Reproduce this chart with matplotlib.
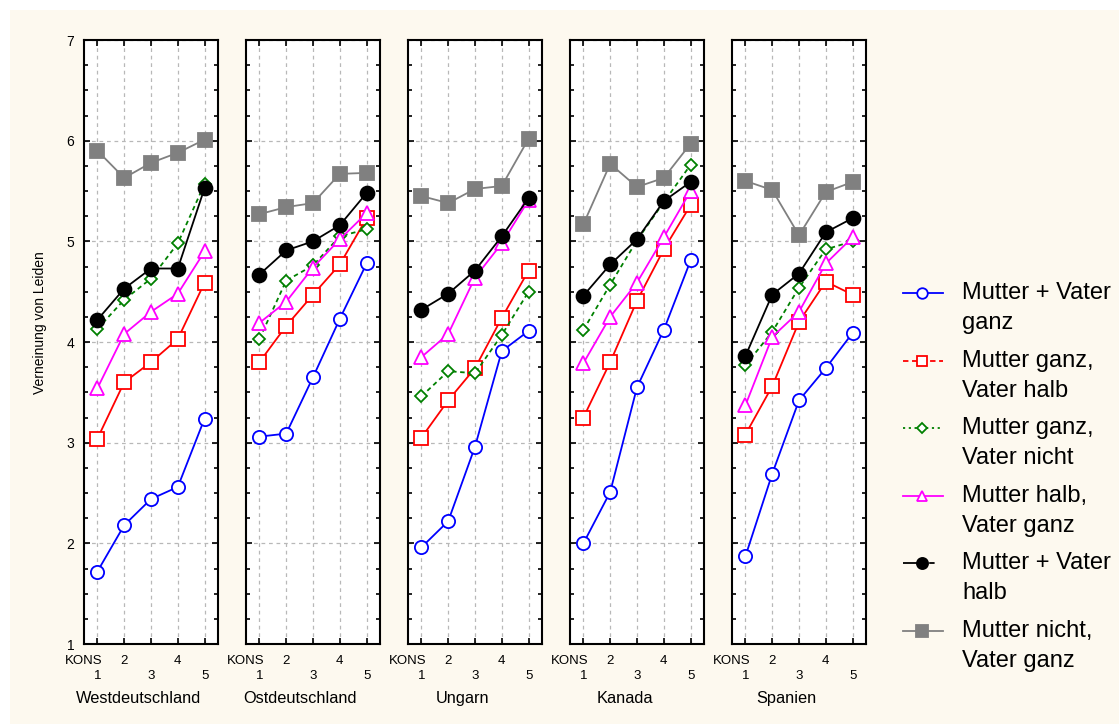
import matplotlib.pyplot as plt
from matplotlib.lines import Line2D
from matplotlib.patches import Rectangle
from matplotlib.ticker import FixedLocator, MultipleLocator

plt.rcParams["font.family"] = ["Liberation Sans", "DejaVu Sans"]

countries = ["Westdeutschland", "Ostdeutschland", "Ungarn", "Kanada", "Spanien"]
kons = [1, 2, 3, 4, 5]
kons_upper = ["", "2", "", "4", ""]
kons_lower = ["1", "3", "5"]

# one row per country, five KONS levels each
mv_ganz = [
    [1.72, 2.18, 2.44, 2.56, 3.24],
    [3.06, 3.09, 3.65, 4.23, 4.78],
    [1.96, 2.22, 2.96, 3.91, 4.11],
    [2.00, 2.51, 3.55, 4.12, 4.81],
    [1.87, 2.69, 3.42, 3.74, 4.09],
]
m_ganz_v_halb = [
    [3.04, 3.60, 3.80, 4.03, 4.59],
    [3.80, 4.16, 4.47, 4.77, 5.23],
    [3.05, 3.42, 3.74, 4.24, 4.71],
    [3.25, 3.80, 4.41, 4.92, 5.36],
    [3.08, 3.56, 4.20, 4.60, 4.47],
]
m_ganz_v_nicht = [
    [4.13, 4.42, 4.63, 4.98, 5.57],
    [4.03, 4.61, 4.76, 5.05, 5.12],
    [3.46, 3.71, 3.69, 4.07, 4.50],
    [4.12, 4.57, 5.01, 5.39, 5.76],
    [3.77, 4.10, 4.54, 4.92, 5.00],
]
m_halb_v_ganz = [
    [3.54, 4.08, 4.30, 4.48, 4.90],
    [4.19, 4.40, 4.74, 5.02, 5.28],
    [3.85, 4.08, 4.64, 4.98, 5.41],
    [3.79, 4.25, 4.59, 5.04, 5.50],
    [3.37, 4.05, 4.30, 4.78, 5.04],
]
mv_halb = [
    [4.22, 4.53, 4.73, 4.73, 5.53],
    [4.67, 4.91, 5.00, 5.16, 5.48],
    [4.32, 4.48, 4.71, 5.05, 5.43],
    [4.46, 4.77, 5.02, 5.40, 5.59],
    [3.86, 4.47, 4.68, 5.09, 5.23],
]
m_nicht_v_ganz = [
    [5.90, 5.63, 5.78, 5.88, 6.01],
    [5.27, 5.34, 5.38, 5.67, 5.68],
    [5.45, 5.38, 5.52, 5.55, 6.02],
    [5.17, 5.77, 5.54, 5.63, 5.97],
    [5.60, 5.51, 5.06, 5.49, 5.59],
]

series = [
    (mv_ganz, ["Mutter + Vater", "ganz"],
     dict(color="#0000ff", marker="o", mfc="white", ms=9.5, ls="-")),
    (m_ganz_v_halb, ["Mutter ganz,", "Vater halb"],
     dict(color="#ff0000", marker="s", mfc="white", ms=9.5, ls="-")),
    (m_ganz_v_nicht, ["Mutter ganz,", "Vater nicht"],
     dict(color="#008000", marker="D", mfc="white", ms=6.5, ls=(0, (2.5, 2)))),
    (m_halb_v_ganz, ["Mutter halb,", "Vater ganz"],
     dict(color="#ff00ff", marker="^", mfc="white", ms=9.5, ls="-")),
    (mv_halb, ["Mutter + Vater", "halb"],
     dict(color="black", marker="o", mfc="black", ms=10, ls="-")),
    (m_nicht_v_ganz, ["Mutter nicht,", "Vater ganz"],
     dict(color="#808080", marker="s", mfc="#808080", ms=10, ls="-")),
]
legend_styles = ["-", (0, (3, 2)), (0, (1.2, 2)), "-", (0, (11, 3.5, 3, 30)), "-"]

W, H = 1119, 724
fig = plt.figure(figsize=(W / 100, H / 100), dpi=100, facecolor="white")
fig.patches.append(Rectangle((10 / W, 0), 1, 1 - 10 / H, transform=fig.transFigure,
                             facecolor="#fdf9ef", edgecolor="none", zorder=-5))

lefts = [84, 246, 408, 570, 732]
for i, (country, left) in enumerate(zip(countries, lefts)):
    ax = fig.add_axes([left / W, 1 - 644 / H, 134 / W, 604 / H])
    ax.set_facecolor("white")
    for values, label, style in series:
        ax.plot(kons, values[i], lw=1.3, mew=1.3, mec=style["color"], **style, zorder=3)
    ax.set_xlim(0.5, 5.5)
    ax.set_ylim(1, 7)
    ax.set_xticks(kons)
    ax.set_xticklabels(kons_upper, fontsize=9.5)
    ax.xaxis.remove_overlapping_locs = False
    ax.xaxis.set_minor_locator(FixedLocator([1, 3, 5]))
    ax.set_xticklabels(kons_lower, minor=True, fontsize=9.5)
    ax.set_yticks(range(1, 8))
    ax.yaxis.set_minor_locator(MultipleLocator(0.25))
    ax.grid(True, which="major", color="#b8b8b8", ls=(0, (3, 3)), lw=0.9, zorder=1)
    ax.tick_params(which="both", direction="in", left=True, right=True, top=True,
                   bottom=True, width=1.2)
    ax.tick_params(which="major", length=4)
    ax.tick_params(axis="y", which="minor", length=3)
    ax.tick_params(axis="x", which="major", pad=8)
    ax.tick_params(axis="x", which="minor", length=0, pad=19)
    ax.tick_params(axis="y", labelsize=10, labelleft=(i == 0), pad=7)
    for sp in ax.spines.values():
        sp.set_linewidth(1.5)
    ax.annotate("KONS", xy=(0, 0), xycoords="axes fraction", xytext=(0, -8),
                textcoords="offset points", ha="center", va="top", fontsize=9.5)
    ax.annotate(country, xy=(0.5, 0), xycoords="axes fraction", xytext=(-9, -39),
                textcoords="offset points", ha="center", va="center", fontsize=11.8)

fig.text(40 / W, 1 - 323 / H, "Verneinung von Leiden", rotation=90,
         ha="center", va="center", fontsize=10)

# legend drawn by hand: handle sits on the first text line, as in the original
for k, ((values, lines, style), ls) in enumerate(zip(series, legend_styles)):
    y = 1 - (293 + 67.6 * k) / H
    st = dict(style)
    st["ls"] = ls
    st["ms"] = style["ms"] * 0.8
    fig.add_artist(Line2D([903 / W, 922 / W, 943 / W], [y, y, y], lw=1.3, mew=1.3,
                          mec=style["color"], markevery=[1], **st))
    fig.text(962 / W, y, lines[0], fontsize=17, va="center", ha="left")
    fig.text(962 / W, y - 30 / H, lines[1], fontsize=17, va="center", ha="left")

fig.savefig("out.png", dpi=100, facecolor=fig.get_facecolor())
